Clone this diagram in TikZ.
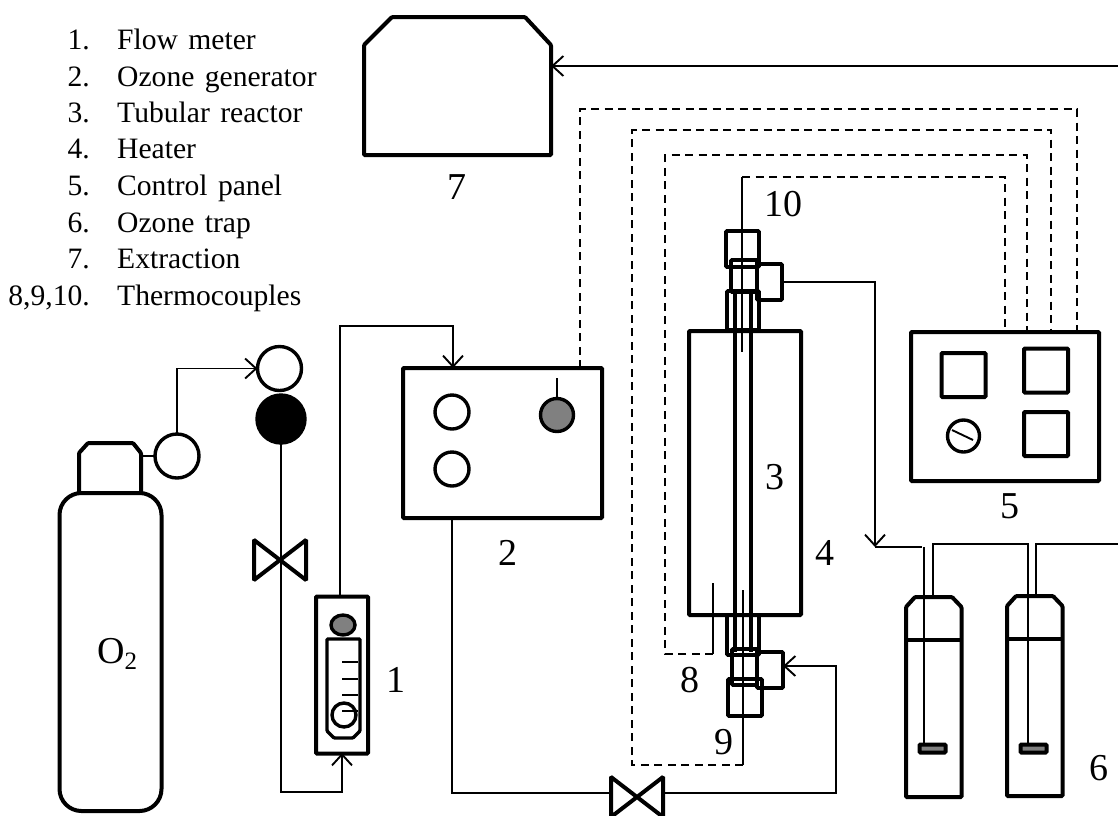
\documentclass[tikz,border=0pt]{standalone}
\usepackage{fontspec}
\setmainfont{Liberation Serif}
\usetikzlibrary{arrows.meta,shapes.geometric}
\newcommand{\entryfont}{\fontsize{29.6}{32}\selectfont}
\tikzset{
    part/.style={draw, line width=4pt, rounded corners=1pt, inner sep=0pt, outer sep=0pt},
    fitting/.style={part, line width=3.6pt},
    round part/.style={part, circle, line width=3.4pt, rounded corners=0pt},
    pipe/.style={line width=1.9pt},
    signal/.style={line width=2pt, dash pattern=on 8pt off 5.5pt},
    tag/.style={font=\fontsize{38}{40}\selectfont, inner sep=0pt},
    entry/.style={font=\entryfont, inner sep=0pt, anchor=base west},
    entrynum/.style={font=\entryfont, inner sep=0pt, anchor=base east},
}
\begin{document}
\begin{tikzpicture}[x=1pt,y=-1pt,>={Straight Barb[length=11pt,width=20pt,line width=1.9pt]}]
    \clip (0,0) rectangle (1118,815);
    % legend
    \foreach \i/\n/\t/\y in {1/1./Flow meter/49,2/2./Ozone generator/86,3/3./Tubular reactor/122,
            4/4./Heater/158,5/5./Control panel/195,6/6./Ozone trap/232,7/7./Extraction/268,
            8/{8,9,10.}/Thermocouples/305} {
        \node[entrynum] (num\i) at (90,\y) {\n};
        \node[entry] (entry\i) at (117,\y) {\spaceskip=10.4pt\relax\t};
    }
    % extraction
    \draw[part] (364,45) -- (392,17) -- (525,17) -- (551,45) -- (551,155) -- (364,155) -- cycle;
    \coordinate (extract) at (551,66);
    \coordinate (extractin) at (1118,66);
    \draw[pipe,->] (extractin) -- (extract);
    \node[tag] (tag7) at (457,187) {7};
    % oxygen cylinder
    \node[part, rounded corners=22pt, minimum width=102pt, minimum height=318pt] (bottle) at (110.5,652) {};
    \draw[part] (79,493) -- (79,453) -- (88,443) -- (133,443) -- (141,453) -- (141,493);
    \node[font=\fontsize{38}{40}\selectfont, inner sep=0pt, anchor=base west] (gas) at (97,663)
        {O\raisebox{-6pt}{\fontsize{25}{26}\selectfont 2}};
    \node[round part, minimum size=44pt] (reg) at (177,456) {};
    \coordinate (regleft) at (141,456);
    \draw[pipe] (regleft) -- (reg.west);
    \node[round part, minimum size=44pt] (meterin) at (279.5,368.5) {};
    \node[round part, fill=black, minimum size=48pt] (meterout) at (281,419) {};
    \draw[pipe,->] (reg.north) |- (meterin.west);
    % flow meter
    \node[part, minimum width=52pt, minimum height=157pt] (rota) at (342,675) {};
    \node[round part, shape=ellipse, fill=gray, minimum width=24pt, minimum height=20pt] (knob) at (343,625) {};
    \draw[part, line width=3.4pt] (327,639) -- (360,639) -- (360,731) -- (353,738) -- (334,738) -- (327,731) -- cycle;
    \node[round part, minimum size=24pt] (float) at (344,715) {};
    \foreach \y in {662,679,695,711} {
        \draw[pipe] (342,\y) -- (358,\y);
    }
    \node[tag] (tag1) at (396,680) {1};
    % valves
    \foreach \vx/\vy in {280/560,637/797} {
        \draw[part] (\vx-26,\vy-20) -- (\vx+26,\vy+20) -- (\vx+26,\vy-20) -- (\vx-26,\vy+20) -- cycle;
    }
    \coordinate (rotain) at (342,753);
    \coordinate (rotaout) at (340,596);
    \coordinate (geninlet) at (453,368);
    \draw[pipe,->] (meterout.south) |- (342,792) -- (rotain);
    \draw[pipe,->] (rotaout) |- (453,326) -- (geninlet);
    % ozone generator
    \node[part, minimum width=199pt, minimum height=150pt] (gen) at (502.5,443) {};
    \node[round part, minimum size=34pt] (genA) at (452,412) {};
    \node[round part, minimum size=34pt] (genB) at (452,469) {};
    \node[round part, fill=gray, minimum size=33pt] (genC) at (557,415) {};
    \coordinate (genCtop) at (557,378);
    \draw[pipe] (genCtop) -- (genC.north);
    \node[tag] (tag2) at (508,553) {2};
    % line through the second valve
    \coordinate (genout) at (452,518);
    \coordinate (valvein) at (611,793);
    \coordinate (valveout) at (662,793);
    \draw[pipe] (genout) |- (valvein);
    % reactor and heater
    \node[part, minimum width=112pt, minimum height=284pt] (heater) at (745,473) {};
    \draw[part] (735,330) -- (735,615);
    \draw[part] (751,330) -- (751,615);
    \node[tag] (tag3) at (775,477) {3};
    \node[tag] (tag4) at (825,553) {4};
    % upper fittings
    \node[fitting, minimum width=33pt, minimum height=36pt] (topA) at (742.5,249) {};
    \node[fitting, minimum width=26pt, minimum height=32pt] (topB) at (744,276) {};
    \node[fitting, minimum width=32pt, minimum height=39pt] (topC) at (743,310.5) {};
    \node[fitting, minimum width=25pt, minimum height=36pt] (topS) at (769.5,282) {};
    \draw[fitting] (735,292) -- (735,330);
    \draw[fitting] (751,292) -- (751,330);
    % lower fittings
    \node[fitting, minimum width=32pt, minimum height=40pt] (lowC) at (743,635) {};
    \node[fitting, minimum width=25pt, minimum height=36pt] (lowB) at (744.5,667) {};
    \node[fitting, minimum width=34pt, minimum height=37pt] (lowA) at (745,697.5) {};
    \node[fitting, minimum width=26pt, minimum height=36pt] (lowS) at (770,670) {};
    \draw[fitting] (735,615) -- (735,652);
    \draw[fitting] (751,615) -- (751,652);
    \coordinate (lowin) at (783,666);
    \draw[pipe,->] (valveout) -| (836,666) -- (lowin);
    % control panel
    \node[part, minimum width=188pt, minimum height=149pt] (panel) at (1005,406.5) {};
    \node[part, minimum size=44pt] (dispA) at (963.5,375) {};
    \node[part, minimum size=44pt] (dispB) at (1046,370.5) {};
    \node[part, minimum size=44pt] (dispC) at (1046,434) {};
    \node[round part, minimum size=32pt] (dial) at (963.5,436) {};
    \coordinate (dialA) at (952,430);
    \coordinate (dialB) at (973,440);
    \draw[pipe] (dialA) -- (dialB);
    \node[tag] (tag5) at (1010,506) {5};
    % thermocouple signal lines
    \coordinate (genout2) at (580,368);
    \coordinate (panelA) at (1077,332);
    \coordinate (panelB) at (1051,332);
    \coordinate (panelC) at (1027,332);
    \coordinate (panelD) at (1005,332);
    \coordinate (tcbot) at (743,765);
    \coordinate (tcmid) at (713,654);
    \coordinate (tctop) at (742,177);
    \draw[signal] (genout2) |- (1077,109) -- (panelA);
    \draw[signal] (tcbot) -| (632,130) -| (panelB);
    \draw[signal] (tcmid) -| (665,155) -| (panelC);
    \draw[signal] (tctop) -| (panelD);
    \coordinate (tctopend) at (742,352);
    \coordinate (tcmidend) at (713,583);
    \coordinate (tcbotend) at (743,590);
    \draw[pipe] (tctop) -- (tctopend);
    \draw[pipe] (tcmid) -- (tcmidend);
    \draw[pipe] (tcbot) -- (tcbotend);
    \node[tag] (tag8) at (690,680) {8};
    \node[tag] (tag9) at (724,742) {9};
    \node[tag] (tag10) at (783,204) {10};
    % ozone traps
    \foreach \tx/\ty in {906/597,1007/596} {
        \draw[part] (\tx,\ty+10) -- (\tx+9,\ty) -- (\tx+46,\ty) -- (\tx+55.5,\ty+10) -- (\tx+55.5,\ty+200) -- (\tx,\ty+200) -- cycle;
        \draw[part] (\tx,\ty+43) -- (\tx+55.5,\ty+43);
    }
    \node[part, fill=gray, minimum width=26pt, minimum height=8pt] (plugA) at (932.5,748.5) {};
    \node[part, fill=gray, minimum width=26pt, minimum height=8pt] (plugB) at (1033.5,748.5) {};
    \coordinate (heaterout) at (782,282);
    \coordinate (traptee) at (875,547);
    \coordinate (trapA) at (922,547);
    \coordinate (trapB) at (933,595);
    \coordinate (trapC) at (1036,594);
    \coordinate (trapout) at (1118,544);
    \coordinate (trapmid) at (1028,544);
    \draw[pipe,->] (heaterout) -| (traptee);
    \draw[pipe] (traptee) -- (trapA);
    \draw[pipe] (924,547) -- (924,743);
    \draw[pipe] (trapB) |- (trapmid) -- (1028,743);
    \draw[pipe] (trapC) |- (trapout);
    \node[tag] (tag6) at (1099,768) {6};
\end{tikzpicture}
\end{document}
